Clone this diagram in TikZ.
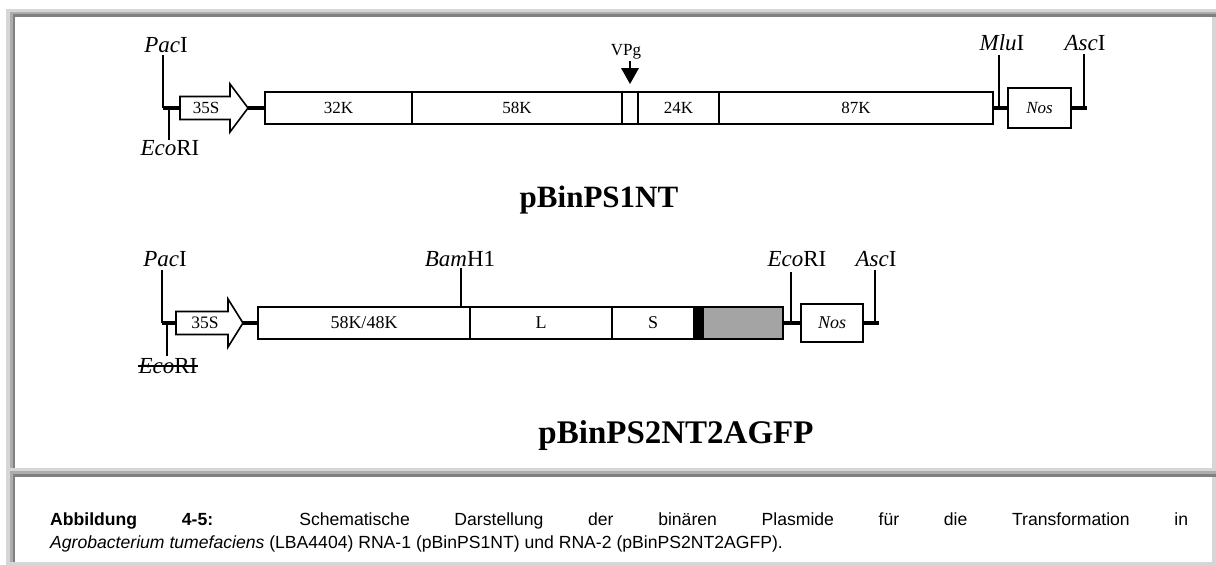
\documentclass[tikz,border=0pt]{standalone}
\usepackage{fontspec}
\setmainfont{Liberation Serif}
\newfontfamily\capfont{Liberation Sans}
\definecolor{frlight}{HTML}{D6D6D6}
\definecolor{frmid}{HTML}{ADADAD}
\definecolor{frdark}{HTML}{808080}
\definecolor{gfpgray}{HTML}{A4A4A4}
\begin{document}
\begin{tikzpicture}[x=1pt,y=-1pt,
  site/.style={inner sep=0pt, font=\fontsize{23}{23}\selectfont},
  lab/.style={inner sep=0pt, font=\fontsize{17}{17}\selectfont},
  segbox/.style={draw, line width=1.6pt, inner sep=0pt, outer sep=0pt, anchor=west, minimum height=32pt, font=\fontsize{17}{17}\selectfont},
  segboxb/.style={segbox, font=\fontsize{18}{18}\selectfont},
  tline/.style={line width=1.6pt},
  thk/.style={line width=4.5pt},
  ttl/.style={inner sep=0pt, font=\fontsize{31}{31}\selectfont\bfseries},
  captxt/.style={anchor=base west, inner sep=0pt, font=\capfont\fontsize{17.6}{17.6}\selectfont}
]
\useasboundingbox (0,0) rectangle (1216,565);
% ---------- frame ----------
\fill[white] (0,0) rectangle (1216,565);
\fill[frlight] (6,9) rectangle (1216,565);
\fill[frmid] (10,12) rectangle (1216,468);
\fill[frdark] (13,14) rectangle (1216,468);
\fill[white] (15,17) rectangle (1212,468);
\fill[frlight] (1212,17) rectangle (1216,468);
\fill[frmid] (10,471) rectangle (1216,562);
\fill[frdark] (13,474) rectangle (1216,562);
\fill[white] (15,477) rectangle (1212,562);
\fill[frlight] (1212,477) rectangle (1216,562);

% ---------- pBinPS1NT ----------
\node[site] (pac1) at (166,45) {\textit{Pac}I};
\coordinate (pac1t) at (163,55);
\coordinate (pac1b) at (163,108);
\node[site] (eco1) at (170,148) {\textit{Eco}RI};
\coordinate (eco1t) at (169,108);
\coordinate (eco1b) at (169,140);
\coordinate (arr1tail) at (180,108);
\coordinate (arr1tip) at (248,108);
\draw[tline, fill=white] (180,96.5) -- (230,96.5) -- (230,84) -- (arr1tip) -- (230,132) -- (230,119.5) -- (180,119.5) -- cycle;
\node[lab] (s35a) at (206,108) {35S};
\node[segbox, minimum width=147pt] (k32) at (265,108) {32K};
\node[segbox, minimum width=210pt] (k58) at (412,108) {58K};
\node[segbox, minimum width=16pt] (vpb) at (622,108) {};
\node[segbox, minimum width=81pt] (k24) at (638,108) {24K};
\node[segbox, minimum width=274pt] (k87) at (719,108) {87K};
\node[segbox, minimum width=63pt, minimum height=40pt, font=\fontsize{17}{17}\selectfont\itshape] (nos1) at (1008,108) {Nos};
\node[site] (mlu1) at (1002,43) {\textit{Mlu}I};
\coordinate (mlu1t) at (999,55);
\coordinate (mlu1b) at (999,108);
\node[site] (asc1) at (1085,43) {\textit{Asc}I};
\coordinate (asc1t) at (1084,54);
\coordinate (asc1b) at (1084,108);
\coordinate (end1) at (1087,108);
\draw[tline] (pac1t) -- (pac1b);
\draw[tline] (eco1t) -- (eco1b);
\draw[thk] (pac1b) -- (arr1tail);
\draw[thk] (arr1tip) -- (k32.west);
\draw[thk] (k87.east) -- (nos1.west);
\draw[thk] (nos1.east) -- (end1);
\draw[tline] (mlu1t) -- (mlu1b);
\draw[tline] (asc1t) -- (asc1b);
% VPg
\node[lab] (vpg) at (626,52) {VPg};
\coordinate (vpgt) at (630,61);
\coordinate (vpgm) at (630,70);
\draw[tline] (vpgt) -- (vpgm);
\fill (621,68) -- (639,68) -- (630,84) -- cycle;
\node[ttl] (t1) at (599,200) {pBinPS1NT};

% ---------- pBinPS2NT2AGFP ----------
\node[site] (pac2) at (165,259) {\textit{Pac}I};
\coordinate (pac2t) at (162,270);
\coordinate (pac2b) at (162,323);
\node[site] (eco2) at (168,366) {\textit{Eco}RI};
\draw[line width=1.2pt] (eco2.west) -- (eco2.east);
\coordinate (eco2t) at (167,323);
\coordinate (eco2b) at (167,356);
\coordinate (arr2tail) at (176,323);
\coordinate (arr2tip) at (243,323);
\draw[tline, fill=white] (176,311.5) -- (228,311.5) -- (228,299) -- (arr2tip) -- (228,347) -- (228,334.5) -- (176,334.5) -- cycle;
\node[lab, font=\fontsize{17.5}{17.5}\selectfont] (s35b) at (205,323) {35S};
\node[segboxb, minimum width=212pt] (m58) at (258,323) {58K/48K};
\node[segboxb, minimum width=142pt] (lL) at (470,323) {L};
\node[segboxb, minimum width=82pt] (sS) at (612,323) {S};
\node[segbox, minimum width=9pt, fill=black] (blk) at (694,323) {};
\node[segbox, minimum width=80pt, fill=gfpgray] (gfp) at (703,323) {};
\node[segboxb, minimum width=62pt, minimum height=38pt, font=\fontsize{18}{18}\selectfont\itshape] (nos2) at (801,323) {Nos};
\node[site] (bam2) at (460,259) {\textit{Bam}H1};
\coordinate (bam2t) at (461,268);
\coordinate (bam2b) at (461,307);
\node[site] (ecor2) at (797,259) {\textit{Eco}RI};
\coordinate (ecor2t) at (791,272);
\coordinate (ecor2b) at (791,323);
\node[site] (asc2) at (876,259) {\textit{Asc}I};
\coordinate (asc2t) at (875,270);
\coordinate (asc2b) at (875,323);
\coordinate (end2) at (879,323);
\draw[tline] (pac2t) -- (pac2b);
\draw[tline] (eco2t) -- (eco2b);
\draw[thk] (pac2b) -- (arr2tail);
\draw[thk] (arr2tip) -- (m58.west);
\draw[tline] (bam2t) -- (bam2b);
\draw[thk] (gfp.east) -- (nos2.west);
\draw[tline] (ecor2t) -- (ecor2b);
\draw[thk] (nos2.east) -- (end2);
\draw[tline] (asc2t) -- (asc2b);
\node[ttl, font=\fontsize{33}{33}\selectfont\bfseries] (t2) at (676,436) {pBinPS2NT2AGFP};

% ---------- caption ----------
\node[captxt] (cap1) at (50,525) {\makebox[1138pt][s]{\textbf{Abbildung 4-5:} Schematische Darstellung der binären Plasmide für die Transformation in}};
\node[captxt] (cap2) at (50,548) {\textit{Agrobacterium tumefaciens} (LBA4404) RNA-1 (pBinPS1NT) und RNA-2 (pBinPS2NT2AGFP).};
\end{tikzpicture}
\end{document}
